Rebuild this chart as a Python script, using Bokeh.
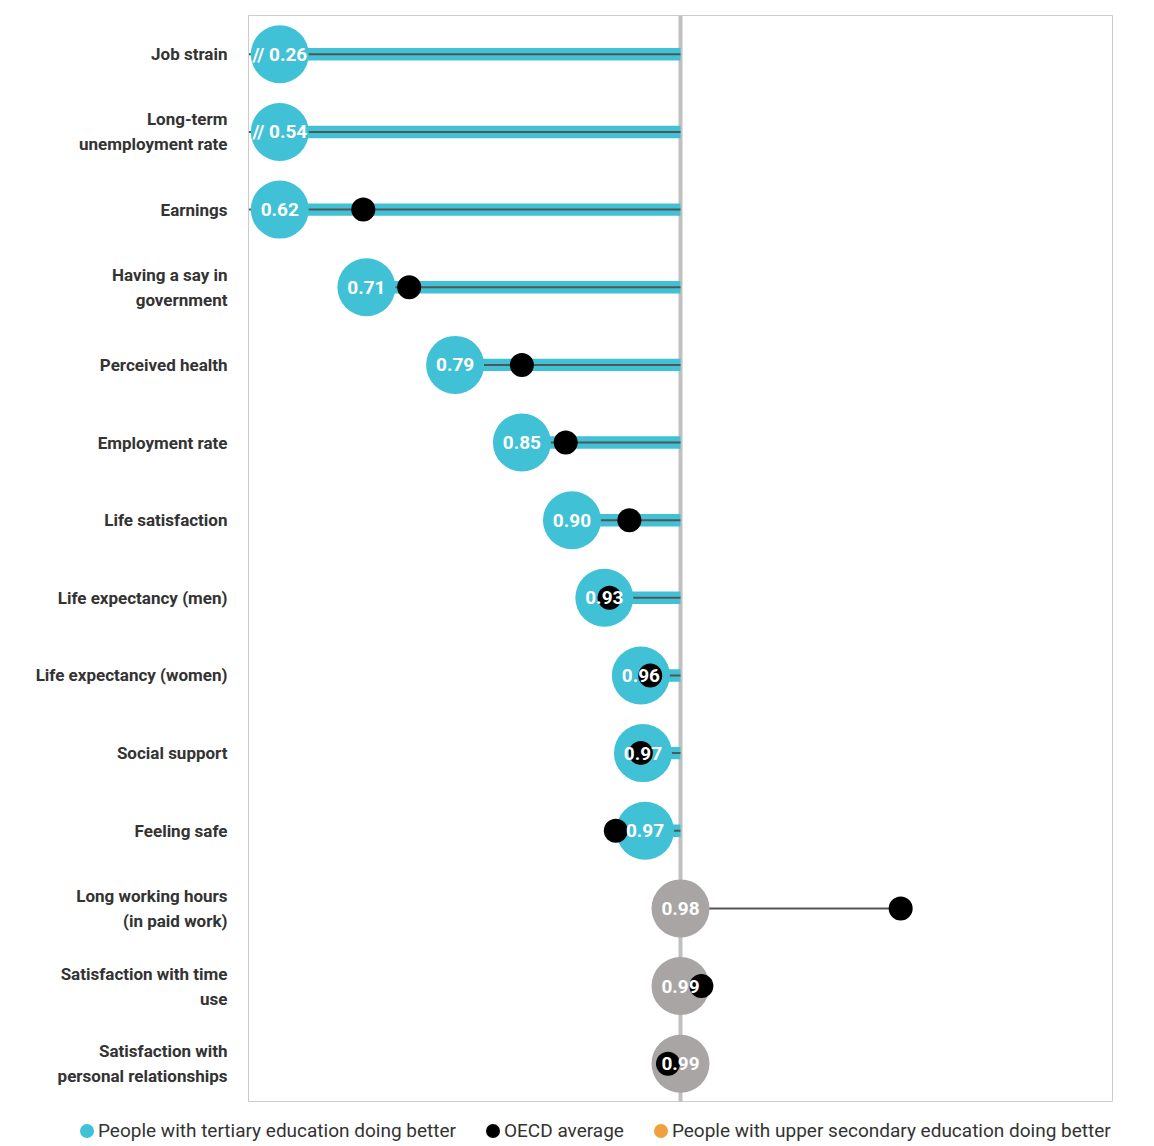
from bokeh.plotting import figure
from bokeh.layouts import column
from bokeh.models import ColumnDataSource, Span, Div
from bokeh.core.properties import value
from bokeh.embed import file_html
from bokeh.resources import INLINE

categories = ["Job strain", "Long-term\nunemployment rate", "Earnings", "Having a say in\ngovernment",
              "Perceived health", "Employment rate", "Life satisfaction", "Life expectancy (men)",
              "Life expectancy (women)", "Social support", "Feeling safe", "Long working hours\n(in paid work)",
              "Satisfaction with time\nuse", "Satisfaction with\npersonal relationships"]
labels = ["// 0.26", "// 0.54", "0.62", "0.71", "0.79", "0.85", "0.90", "0.93", "0.96", "0.97", "0.97",
          "0.98", "0.99", "0.99"]
# plotted position (values below the axis break are clipped at the left edge; grey = not significant, at 1)
pos = [0.616, 0.616, 0.616, 0.699, 0.784, 0.848, 0.896, 0.927, 0.962, 0.964, 0.966, 1.0, 1.0, 1.0]
oecd = [None, None, 0.696, 0.740, 0.848, 0.890, 0.951, 0.932, 0.971, 0.962, 0.938, 1.211, 1.020, 0.988]
significant = [True] * 11 + [False] * 3
legend_labels = ["People with tertiary education doing better", "OECD average",
                 "People with upper secondary education doing better"]

TEAL = "#41c1d5"
GREY = "#a9a5a4"
ORANGE = "#f0a040"
FONT = "Roboto"

src = ColumnDataSource(dict(
    cat=categories, pos=pos, lab=labels,
    col=[TEAL if s else GREY for s in significant],
))

p = figure(frame_width=864, frame_height=1087, y_range=list(reversed(categories)), x_range=(0.586, 1.414),
           output_backend="svg", toolbar_location=None,
           min_border_left=248, min_border_top=15, min_border_right=26, min_border_bottom=0)
p.xaxis.visible = False
p.xgrid.visible = False
p.ygrid.visible = False
p.outline_line_color = "#cccccc"
p.yaxis.axis_line_color = "#cccccc"
p.yaxis.major_tick_line_color = None
p.yaxis.minor_tick_line_color = None
p.yaxis.major_label_text_font = FONT
p.yaxis.major_label_text_font_style = "bold"
p.yaxis.major_label_text_font_size = "17px"
p.yaxis.major_label_text_color = "#333333"
p.yaxis.major_label_text_line_height = 1.25
p.yaxis.major_label_standoff = 15

p.add_layout(Span(location=1.0, dimension="height", line_color="#c0c0c0", line_width=4, level="underlay"))

sig_c = [c for c, s in zip(categories, significant) if s]
sig_p = [x for x, s in zip(pos, significant) if s]
p.hbar(y=sig_c, left=sig_p, right=1.0, height=0.16, fill_color=TEAL, line_color=None)
p.segment(x0=[0.586 if x < 0.62 else x for x in sig_p], x1=1.0, y0=sig_c, y1=sig_c,
          line_color="#555555", line_width=2)
ns_c = [c for c, s in zip(categories, significant) if not s]
ns_o = [o for o, s in zip(oecd, significant) if not s]
p.segment(x0=1.0, x1=ns_o, y0=ns_c, y1=ns_c, line_color="#555555", line_width=2)

p.scatter("pos", "cat", source=src, size=58, fill_color="col", line_color=None)
oc = [c for c, o in zip(categories, oecd) if o is not None]
ov = [o for o in oecd if o is not None]
p.scatter(ov, oc, size=24, fill_color="black", line_color=None)
p.text("pos", "cat", text="lab", source=src, text_color="white", text_align="center",
       text_baseline="middle", text_font=value(FONT), text_font_style="bold", text_font_size="19px")

# legend strip below the chart
items = ""
for lab, col in zip(legend_labels, [TEAL, "black", ORANGE]):
    items += (f'<span style="display:inline-flex;align-items:center;margin-right:30px">'
              f'<span style="display:inline-block;width:14px;height:14px;border-radius:7px;'
              f'background:{col};margin-right:4px"></span>{lab}</span>')
leg = Div(text=f'<div style="font-family:{FONT};font-size:19px;color:#333;white-space:nowrap;'
               f'padding-left:75px;padding-top:10px">{items}</div>', width=1154, height=40)

open("out.html", "w").write(file_html(column(p, leg, spacing=0), INLINE))
